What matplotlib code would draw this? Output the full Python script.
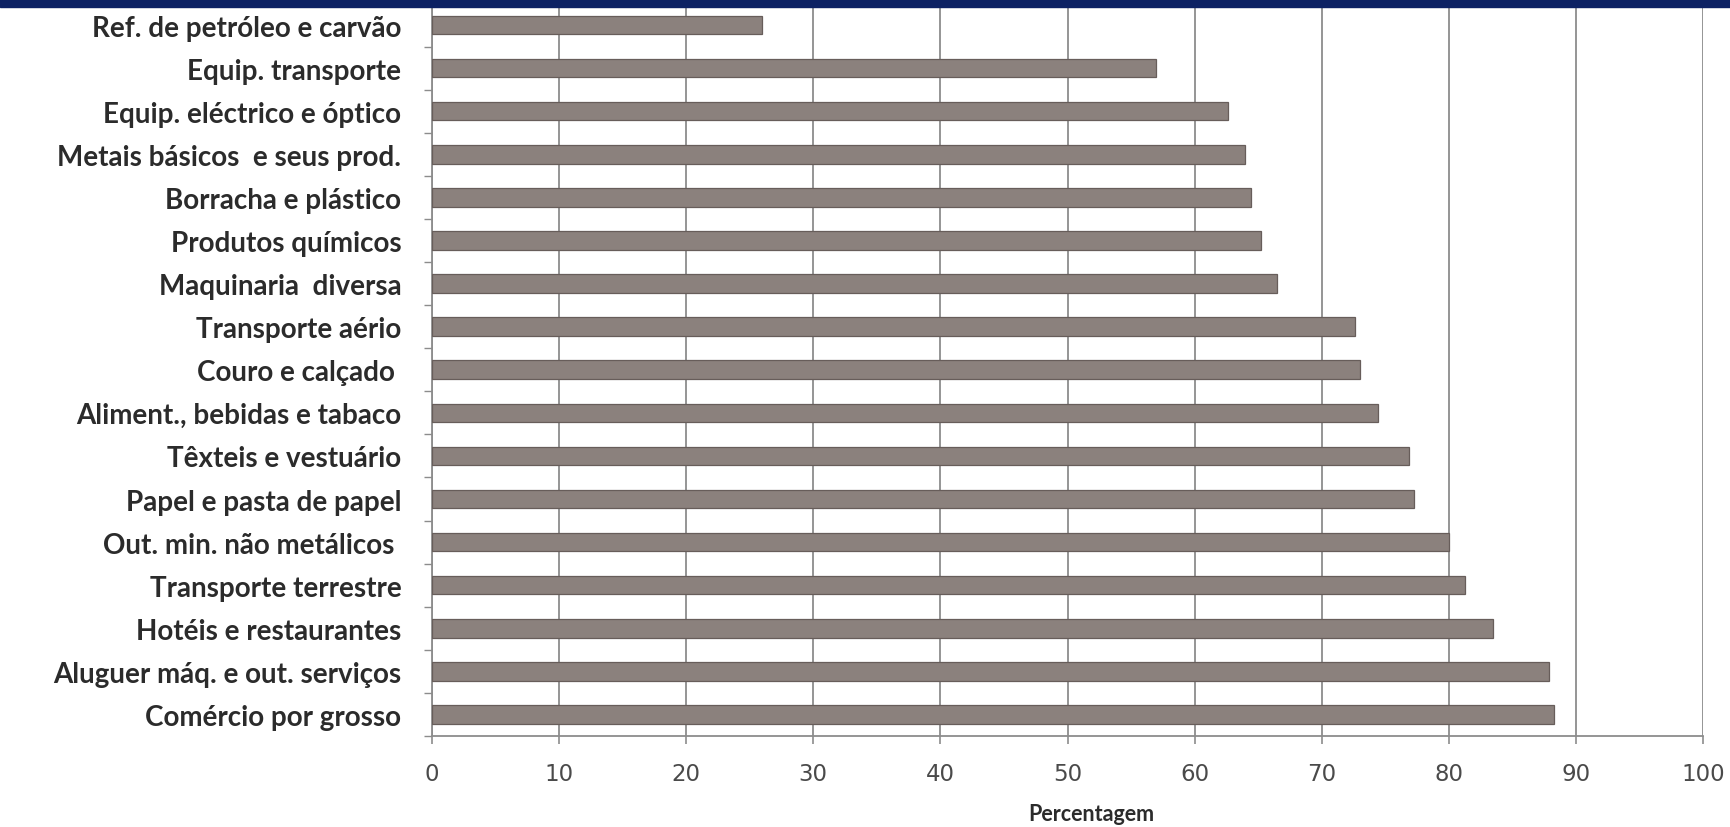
import matplotlib
matplotlib.use("Agg")
import matplotlib.pyplot as plt
from matplotlib.patches import Rectangle

# Sectors, top to bottom, and their share (%)
sectors = [
    "Ref. de petróleo e carvão",
    "Equip. transporte",
    "Equip. eléctrico e óptico",
    "Metais básicos  e seus prod.",
    "Borracha e plástico",
    "Produtos químicos",
    "Maquinaria  diversa",
    "Transporte aério",
    "Couro e calçado ",
    "Aliment., bebidas e tabaco",
    "Têxteis e vestuário",
    "Papel e pasta de papel",
    "Out. min. não metálicos ",
    "Transporte terrestre",
    "Hotéis e restaurantes",
    "Aluguer máq. e out. serviços",
    "Comércio por grosso",
]
shares = [26.0, 57.0, 62.6, 64.0, 64.4, 65.2, 66.5, 72.6, 73.0, 74.4,
          76.9, 77.3, 80.0, 81.3, 83.5, 87.9, 88.3]
xticks = list(range(0, 101, 10))
xlabel = "Percentagem"

BAR_COLOUR = "#8b817d"
BAR_EDGE = "#675d5a"
GRID_COLOUR = "#8c8c8c"
LABEL_COLOUR = "#2b2b2b"
BAND_COLOUR = "#0c2163"

fig = plt.figure(figsize=(17.3, 8.28), dpi=100)
fig.patch.set_facecolor("white")
ax = fig.add_axes([432 / 1730, 91 / 828, (1703 - 432) / 1730, (823.5 - 91) / 828])

ypos = list(range(len(sectors)))
ax.barh(ypos, shares, height=0.43, color=BAR_COLOUR, edgecolor=BAR_EDGE,
        linewidth=0.9, zorder=3)

ax.set_xlim(0, 100)
ax.set_ylim(len(sectors) - 0.5, -0.5)

# vertical grid at every 10%
ax.set_xticks(xticks)
ax.set_xticklabels([str(t) for t in xticks], fontfamily="DejaVu Sans",
                   fontsize=16.5, color="#4a4a4a")
ax.xaxis.grid(True, color=GRID_COLOUR, linewidth=1.3, zorder=1)
ax.tick_params(axis="x", direction="out", length=6, width=1.2,
               color=GRID_COLOUR, pad=13)

# category labels, with small ticks between categories
ax.set_yticks(ypos)
ax.set_yticklabels(sectors, fontfamily="Lato", fontweight="bold",
                   fontsize=20, color=LABEL_COLOUR)
ax.tick_params(axis="y", which="major", length=0, pad=22)
ax.set_yticks([y + 0.5 for y in ypos], minor=True)
ax.tick_params(axis="y", which="minor", direction="out", length=6,
               width=1.0, color=GRID_COLOUR)

for side in ("top", "right"):
    ax.spines[side].set_visible(False)
for side in ("left", "bottom"):
    ax.spines[side].set_color(GRID_COLOUR)
    ax.spines[side].set_linewidth(1.3)

ax.set_xlabel(xlabel, fontfamily="Lato", fontweight="bold", fontsize=15.5,
              color=LABEL_COLOUR, va="center")
ax.xaxis.set_label_coords(0.5185, -0.106)

# dark band across the top edge
fig.patches.append(Rectangle((0, 1 - 8 / 828), 1, 8 / 828,
                             transform=fig.transFigure, color=BAND_COLOUR,
                             zorder=10))

fig.savefig("out.png", dpi=100, facecolor="white")
